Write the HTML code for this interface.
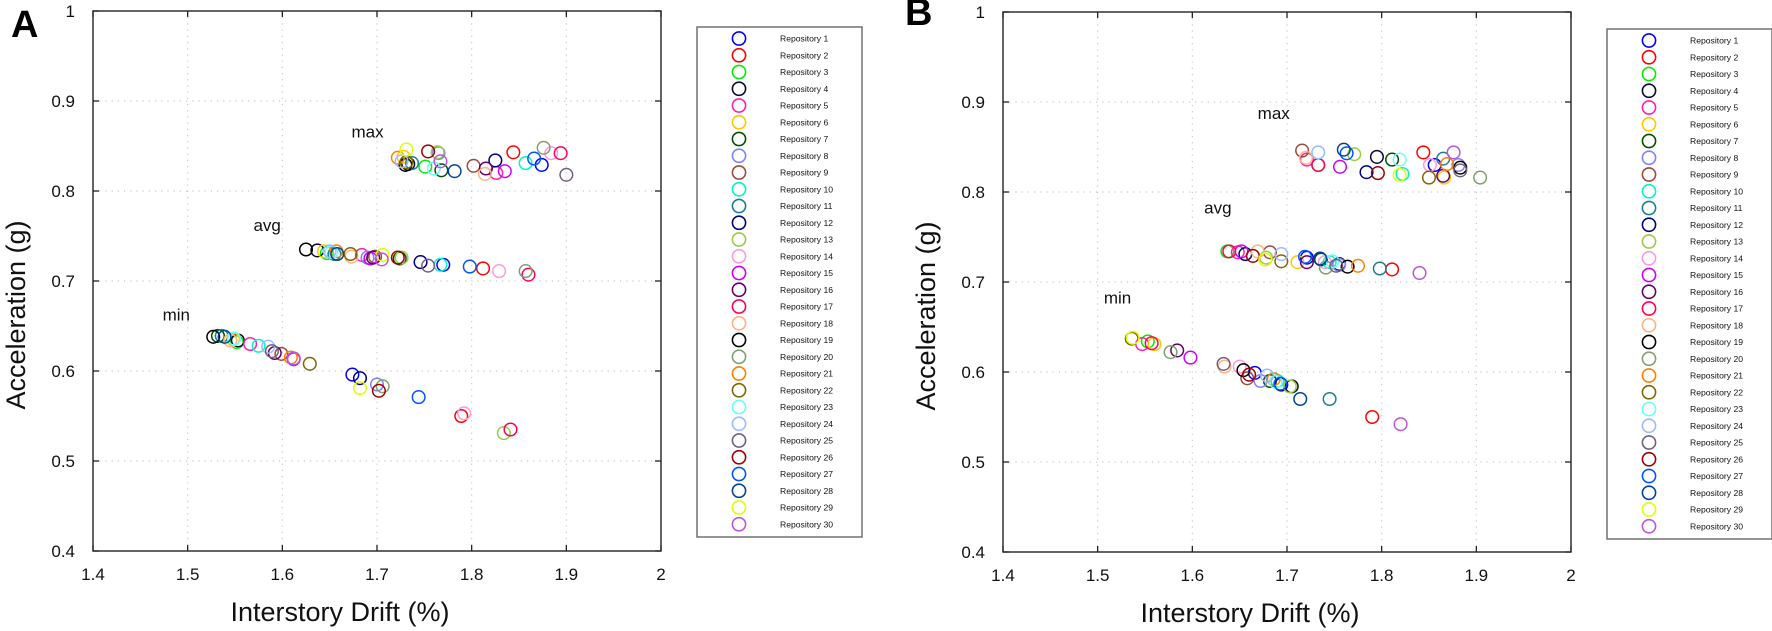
<!DOCTYPE html>
<html><head><meta charset="utf-8"><style>
html,body{margin:0;padding:0;background:#fff;}
svg{display:block;font-family:"Liberation Sans",Arial,sans-serif;}
</style></head><body>
<svg id="fig" width="1772" height="631" viewBox="0 0 1772 631" xmlns="http://www.w3.org/2000/svg">
<text x="11" y="37" font-size="38" font-weight="bold">A</text>
<text x="905" y="25" font-size="38" font-weight="bold">B</text>
</svg>
<script>
const colors = ["#0000ff","#ff0000","#00ee00","#0a0a30","#ff1fb4","#ffc800","#005000","#8080ff","#9b4a3c","#00f5c8","#1a8090","#000080","#99cc44","#ff99dd","#cc00ff","#660066","#ff0055","#ffb380","#000000","#80a070","#ff7f00","#806600","#66ffff","#99bbff","#706080","#a00000","#0055ff","#004499","#ddff00","#bb55dd"];
const xTicks = [1.4,1.5,1.6,1.7,1.8,1.9,2.0];
const xTickLabels = ["1.4","1.5","1.6","1.7","1.8","1.9","2"];
const yTicks = [0.4,0.5,0.6,0.7,0.8,0.9,1.0];
const yTickLabels = ["0.4","0.5","0.6","0.7","0.8","0.9","1"];

const aMaxX = [1.874,1.844,1.751,1.733,1.826,1.728,1.768,1.765,1.802,1.857,1.737,1.825,1.764,1.884,1.835,1.815,1.894,1.814,1.730,1.876,1.722,1.731,1.760,1.726,1.900,1.754,1.866,1.782,1.731,1.767];
const aMaxY = [0.829,0.843,0.827,0.830,0.820,0.838,0.823,0.842,0.828,0.831,0.831,0.834,0.843,0.842,0.822,0.825,0.842,0.819,0.829,0.848,0.837,0.832,0.825,0.833,0.818,0.844,0.836,0.822,0.846,0.833];
const aAvgX = [1.770,1.812,1.647,1.637,1.684,1.644,1.724,1.690,1.698,1.767,1.655,1.746,1.726,1.829,1.693,1.696,1.860,1.673,1.625,1.857,1.657,1.672,1.652,1.650,1.754,1.722,1.798,1.658,1.706,1.705];
const aAvgY = [0.718,0.714,0.731,0.734,0.729,0.733,0.725,0.726,0.727,0.718,0.730,0.721,0.726,0.711,0.725,0.726,0.707,0.727,0.735,0.711,0.733,0.730,0.732,0.733,0.717,0.726,0.716,0.730,0.729,0.724];
const aMinX = [1.674,1.789,1.552,1.553,1.566,1.548,1.532,1.700,1.599,1.575,1.536,1.682,1.834,1.792,1.612,1.592,1.841,1.545,1.527,1.706,1.609,1.629,1.549,1.585,1.589,1.702,1.744,1.539,1.682,1.612];
const aMinY = [0.596,0.550,0.632,0.634,0.630,0.635,0.639,0.585,0.619,0.628,0.639,0.592,0.531,0.553,0.613,0.620,0.535,0.634,0.638,0.583,0.615,0.608,0.636,0.627,0.622,0.578,0.571,0.638,0.581,0.614];

const bMaxX = [1.856,1.844,1.733,1.795,1.721,1.866,1.811,1.881,1.716,1.822,1.865,1.784,1.771,1.851,1.756,1.865,1.733,1.720,1.883,1.904,1.869,1.850,1.819,1.733,1.883,1.796,1.763,1.760,1.819,1.876];
const bMaxY = [0.830,0.844,0.830,0.839,0.836,0.816,0.836,0.830,0.846,0.820,0.837,0.822,0.842,0.830,0.828,0.818,0.830,0.838,0.827,0.816,0.831,0.816,0.836,0.844,0.824,0.821,0.843,0.847,0.819,0.844];
const bAvgX = [1.721,1.811,1.637,1.755,1.648,1.711,1.736,1.755,1.682,1.745,1.798,1.656,1.678,1.740,1.652,1.721,1.639,1.669,1.764,1.741,1.775,1.694,1.748,1.694,1.752,1.664,1.719,1.735,1.677,1.840];
const bAvgY = [0.727,0.714,0.734,0.720,0.733,0.722,0.725,0.719,0.733,0.722,0.715,0.731,0.727,0.722,0.734,0.722,0.734,0.734,0.717,0.716,0.718,0.723,0.723,0.731,0.718,0.729,0.728,0.726,0.725,0.710];
const bMinX = [1.666,1.790,1.553,1.705,1.547,1.560,1.682,1.672,1.658,1.690,1.745,1.694,1.703,1.650,1.598,1.584,1.557,1.634,1.654,1.577,1.686,1.536,1.688,1.679,1.633,1.660,1.693,1.714,1.537,1.820];
const bMinY = [0.599,0.550,0.634,0.584,0.631,0.631,0.590,0.590,0.593,0.590,0.570,0.586,0.584,0.606,0.616,0.624,0.632,0.606,0.602,0.622,0.592,0.637,0.589,0.596,0.609,0.597,0.587,0.570,0.638,0.542];

const NS = "http://www.w3.org/2000/svg";
const svg = document.getElementById("fig");
function mk(tag, attrs, parent){ const e=document.createElementNS(NS,tag); for(const k in attrs) e.setAttribute(k,attrs[k]); (parent||svg).appendChild(e); return e; }

function panel(id, L, T, R, B, sets, labelPos, legendX, legendY){
  const g = mk("g",{});
  
  
  const sx = v => L + (v-1.4)/0.6*(R-L);
  const sy = v => B - (v-0.4)/0.6*(B-T);
  xTicks.forEach((t,i)=>{ if(i>0 && i<xTicks.length-1){ const l=mk("line",{x1:sx(t),x2:sx(t),y1:T,y2:B,stroke:"#c8c8c8","stroke-width":1.2,"stroke-dasharray":"1.2 5"},g);
      } });
  yTicks.forEach((t,i)=>{ if(i>0 && i<yTicks.length-1){ const l=mk("line",{x1:L,x2:R,y1:sy(t),y2:sy(t),stroke:"#c8c8c8","stroke-width":1.2,"stroke-dasharray":"1.2 5"},g);
      } });
  const fr = mk("rect",{x:L,y:T,width:R-L,height:B-T,fill:"none",stroke:"#222","stroke-width":1.4},g);
   
  xTicks.forEach((t,i)=>{
    mk("line",{x1:sx(t),x2:sx(t),y1:B,y2:B-6,stroke:"#222","stroke-width":1.3},g);
    mk("line",{x1:sx(t),x2:sx(t),y1:T,y2:T+6,stroke:"#222","stroke-width":1.3},g);
    const tx = mk("text",{x:sx(t),y:B+29,"font-size":17,"text-anchor":"middle",fill:"#111"},g);
    tx.textContent = xTickLabels[i];
     
  });
  yTicks.forEach((t,i)=>{
    mk("line",{x1:L,x2:L+6,y1:sy(t),y2:sy(t),stroke:"#222","stroke-width":1.3},g);
    mk("line",{x1:R,x2:R-6,y1:sy(t),y2:sy(t),stroke:"#222","stroke-width":1.3},g);
    const tx = mk("text",{x:L-18,y:sy(t)+6,"font-size":17,"text-anchor":"end",fill:"#111"},g);
    tx.textContent = yTickLabels[i];
     
  });
  const xl = mk("text",{x:(L+R)/2-37,y:B+70,"font-size":27,"text-anchor":"middle",fill:"#111"},g);
  xl.textContent = "Interstory Drift (%)";
   
  const yl = mk("text",{x:0,y:0,"font-size":27,"text-anchor":"middle",fill:"#111",transform:`translate(${L-68},${(T+B)/2+34}) rotate(-90)`},g);
  yl.textContent = "Acceleration (g)";
   
  ["max","avg","min"].forEach((nm,k)=>{
    const tx = mk("text",{x:sx(labelPos[k][0]),y:sy(labelPos[k][1])+6,"font-size":17,"text-anchor":"middle",fill:"#111"},g);
    tx.textContent = nm;
     
  });
  sets.forEach((s,si)=>{
    for(let i=0;i<30;i++){
      const c = mk("circle",{cx:sx(s[0][i]),cy:sy(s[1][i]),r:6.3,fill:"none",stroke:colors[i],"stroke-width":1.5},g);
      
      
    }
  });
  const lg = mk("g",{});
  
  
  mk("rect",{x:legendX,y:legendY,width:165,height:510,fill:"#fff",stroke:"#666","stroke-width":1.4},lg);
  for(let i=0;i<30;i++){
    const cy = legendY + 11.5 + i*16.75;
    const c = mk("circle",{cx:legendX+42,cy:cy,r:6.6,fill:"none",stroke:colors[i],"stroke-width":1.6},lg);
    
    
    const t = mk("text",{x:legendX+83,y:cy+3,"font-size":8.6,fill:"#111","xml:space":"preserve"},lg);
    t.textContent = "Repository  " + (i+1);
    
    
  }
}
panel("panel-a", 93, 11, 661, 551, [[aMaxX,aMaxY],[aAvgX,aAvgY],[aMinX,aMinY]], [[1.69,0.866],[1.584,0.762],[1.488,0.663]], 697, 27);
panel("panel-b", 1003, 12, 1571, 552, [[bMaxX,bMaxY],[bAvgX,bAvgY],[bMinX,bMinY]], [[1.686,0.888],[1.627,0.783],[1.521,0.683]], 1607, 29);
</script>
</body></html>
